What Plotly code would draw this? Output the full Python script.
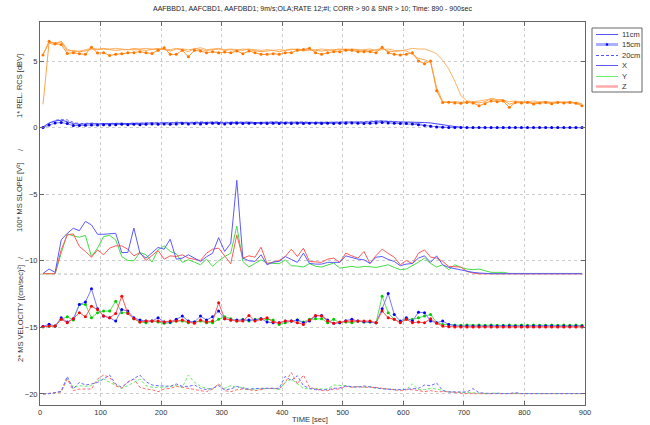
import plotly.graph_objects as go

# time bins (centre of each 10 s bin)
T = list(range(5, 900, 10))

RCS_ORANGE_MK = [5.45,6.49,6.29,6.24,5.57,5.62,5.55,5.50,6.04,5.60,
 5.62,5.42,5.50,5.55,5.62,5.62,5.70,5.62,5.57,5.80,
 6.00,5.50,5.50,5.80,5.32,5.80,5.75,5.62,5.70,5.62,
 5.67,5.62,5.75,5.55,5.75,5.62,5.50,5.50,5.55,5.50,
 5.62,5.62,5.80,5.87,5.95,5.62,5.50,5.62,5.70,5.70,
 5.80,5.80,5.70,5.70,5.70,5.62,6.04,5.62,5.50,5.45,
 5.50,5.62,5.00,4.80,5.00,2.76,1.89,1.90,1.85,1.82,
 1.89,1.85,1.64,1.80,2.00,1.95,2.00,1.52,1.89,1.85,
 1.89,1.77,1.85,1.89,1.80,1.89,1.85,1.89,1.82,1.64]
RCS_ORANGE_A = [1.75,6.40,6.35,6.45,5.75,5.80,5.70,5.75,5.90,5.85,
 5.90,5.85,5.80,5.85,5.85,5.90,5.85,5.80,5.85,5.95,
 5.85,5.75,5.90,5.85,5.70,5.95,5.85,5.80,5.85,5.90,
 5.80,5.85,5.80,5.90,5.85,5.80,5.70,5.75,5.80,5.70,
 5.80,5.90,5.85,5.75,5.85,5.80,5.75,5.80,5.85,5.90,
 5.85,5.90,5.85,5.80,5.75,5.85,5.95,5.75,5.70,5.80,
 5.75,5.50,5.20,5.10,4.90,3.00,1.95,1.90,1.95,1.90,
 1.95,1.90,1.85,1.95,2.20,2.10,2.10,1.75,1.90,1.95,
 1.90,1.85,1.90,1.95,1.85,1.90,1.90,1.95,1.85,1.75]
RCS_ORANGE_B = [5.50,6.35,6.20,6.50,5.90,5.70,5.75,5.85,5.95,5.90,
 5.95,5.90,5.95,5.90,5.85,5.95,5.90,5.95,5.90,5.85,
 5.90,5.85,5.95,5.90,5.85,5.90,6.00,5.85,5.90,5.95,
 5.85,5.90,5.85,5.80,5.90,5.85,5.80,5.85,5.80,5.85,
 5.80,5.85,5.90,5.85,5.80,5.85,5.90,5.85,5.80,5.85,
 5.90,5.85,5.80,5.85,5.90,5.80,5.85,5.90,5.80,5.75,
 5.85,5.95,5.90,5.90,5.75,5.55,5.05,4.40,3.50,2.40,
 2.00,1.95,2.00,2.10,2.15,2.00,2.05,1.95,2.00,1.90,
 1.95,2.00,1.90,1.95,1.90,1.95,1.90,1.85,1.90,1.80]

RCS_11 = [0.05,0.35,0.50,0.55,0.45,0.30,0.25,0.28,0.30,0.28,
 0.30,0.28,0.30,0.32,0.30,0.32,0.30,0.33,0.35,0.33,
 0.35,0.33,0.35,0.38,0.35,0.37,0.35,0.38,0.40,0.38,
 0.35,0.38,0.40,0.37,0.40,0.38,0.40,0.37,0.40,0.38,
 0.40,0.38,0.40,0.37,0.38,0.40,0.38,0.40,0.38,0.40,
 0.42,0.45,0.42,0.40,0.42,0.48,0.50,0.45,0.42,0.42,
 0.42,0.42,0.40,0.38,0.35,0.30,0.22,0.15,0.08,0.03,
 0,0,0,0,0,0,0,0,0,0,
 0,0,0,0,0,0,0,0,0,0]
RCS_15 = [0.00,0.20,0.35,0.38,0.30,0.15,0.15,0.18,0.20,0.20,
 0.22,0.20,0.22,0.25,0.22,0.25,0.22,0.25,0.28,0.25,
 0.28,0.25,0.28,0.30,0.28,0.30,0.28,0.30,0.32,0.30,
 0.28,0.30,0.32,0.30,0.33,0.30,0.32,0.30,0.32,0.30,
 0.33,0.30,0.32,0.30,0.32,0.33,0.30,0.32,0.30,0.32,
 0.33,0.35,0.32,0.30,0.32,0.35,0.38,0.35,0.32,0.30,
 0.30,0.28,0.22,0.15,0.10,0.05,0.02,0,0,0,
 0,0,0,0,0,0,0,0,0,0,
 0,0,0,0,0,0,0,0,0,0]
RCS_20 = [0.00,0.30,0.55,0.62,0.58,0.40,0.30,0.32,0.35,0.30,
 0.32,0.30,0.35,0.33,0.30,0.35,0.33,0.35,0.38,0.35,
 0.40,0.35,0.42,0.40,0.38,0.40,0.45,0.40,0.42,0.45,
 0.40,0.42,0.45,0.40,0.42,0.38,0.40,0.42,0.40,0.45,
 0.42,0.40,0.42,0.45,0.40,0.42,0.40,0.43,0.40,0.42,
 0.45,0.42,0.40,0.45,0.50,0.52,0.48,0.50,0.45,0.42,
 0.40,0.35,0.30,0.20,0.12,0.06,0.02,0,0,0,
 0,0,0,0,0,0,0,0,0,0,
 0,0,0,0,0,0,0,0,0,0]

SLOPE_X = [-10.95,-10.62,-10.87,-8.43,-7.94,-7.56,-7.74,-7.04,-7.31,-8.01,
 -8.01,-8.00,-7.94,-9.38,-9.38,-7.54,-9.43,-9.80,-9.40,-9.00,
 -9.13,-8.38,-9.88,-9.80,-9.55,-9.80,-10.05,-9.70,-9.43,-8.26,
 -9.30,-8.68,-3.96,-9.80,-10.00,-10.05,-9.55,-10.30,-10.10,-10.05,
 -9.68,-9.90,-10.12,-9.43,-10.20,-10.25,-10.25,-10.12,-10.10,-10.12,
 -9.63,-9.75,-9.88,-9.93,-10.20,-9.73,-9.68,-9.90,-10.05,-10.37,
 -10.25,-10.20,-9.80,-9.63,-10.12,-9.63,-10.30,-10.50,-10.60,-10.67,
 -10.80,-10.87,-10.92,-10.97,-10.97,-10.97,-10.97,-10.97,-10.92,-10.97,
 -10.97,-10.97,-10.97,-10.97,-10.97,-10.97,-10.97,-10.97,-10.97,-10.97]
SLOPE_Y = [-10.97,-10.97,-10.97,-9.43,-7.98,-8.13,-8.23,-8.10,-9.68,-9.05,
 -8.18,-8.10,-8.43,-9.68,-9.98,-10.00,-9.38,-9.55,-10.10,-9.18,
 -8.88,-9.30,-9.48,-10.12,-9.93,-10.10,-10.30,-9.88,-10.42,-10.00,
 -9.68,-9.43,-7.39,-10.05,-10.47,-10.20,-9.93,-10.17,-10.20,-10.22,
 -9.93,-10.37,-10.40,-10.47,-10.20,-10.42,-10.47,-10.30,-10.17,-10.55,
 -10.50,-10.42,-10.50,-10.42,-10.45,-10.50,-10.40,-10.30,-10.50,-10.67,
 -10.62,-10.37,-10.10,-9.80,-10.20,-10.47,-10.30,-10.67,-10.30,-10.50,
 -10.62,-10.67,-10.62,-10.75,-10.87,-10.87,-10.87,-10.95,-10.95,-10.95,
 -10.95,-10.95,-10.95,-10.95,-10.95,-10.95,-10.95,-10.95,-10.95,-10.95]
SLOPE_Z = [-10.97,-10.97,-10.97,-9.18,-8.06,-7.98,-8.93,-9.30,-9.73,-9.18,
 -9.55,-9.05,-8.88,-8.88,-9.13,-9.63,-9.38,-9.98,-9.60,-9.23,
 -9.88,-9.63,-9.68,-9.55,-9.80,-9.90,-9.98,-9.43,-9.13,-9.05,
 -9.60,-10.22,-8.06,-9.80,-9.63,-9.73,-8.98,-10.22,-10.10,-9.98,
 -9.68,-9.13,-9.68,-9.05,-10.05,-10.10,-10.12,-9.88,-9.80,-10.12,
 -9.43,-9.63,-9.80,-9.30,-10.20,-9.60,-9.13,-9.45,-9.73,-10.30,
 -9.98,-10.22,-9.43,-9.18,-9.73,-9.80,-10.05,-10.42,-10.45,-10.47,
 -10.80,-10.92,-10.98,-10.98,-10.98,-10.98,-10.98,-10.98,-10.98,-10.98,
 -10.98,-10.98,-10.98,-10.98,-10.98,-10.98,-10.98,-10.98,-10.98,-10.98]

VEL_X = [-14.94,-14.77,-14.90,-14.28,-14.60,-14.35,-13.28,-13.10,-12.11,-13.60,
 -14.15,-14.28,-14.53,-13.66,-13.78,-14.28,-14.45,-14.53,-14.53,-14.28,
 -14.60,-14.60,-14.40,-14.15,-14.53,-14.60,-14.15,-14.45,-14.20,-13.78,
 -14.35,-14.45,-14.45,-14.45,-14.45,-14.45,-14.35,-14.60,-14.65,-14.65,
 -14.53,-14.53,-14.45,-14.65,-14.53,-14.15,-14.10,-14.45,-14.70,-14.65,
 -14.50,-14.40,-14.53,-14.58,-14.58,-14.65,-13.60,-12.46,-14.03,-14.53,
 -14.28,-14.53,-13.86,-13.91,-14.53,-14.65,-14.53,-14.78,-14.88,-14.92,
 -14.90,-14.92,-14.90,-14.92,-14.90,-14.92,-14.90,-14.90,-14.92,-14.90,
 -14.92,-14.90,-14.92,-14.90,-14.90,-14.92,-14.90,-14.92,-14.90,-14.92]
VEL_Y = [-14.95,-14.92,-14.90,-14.40,-14.20,-14.45,-13.28,-13.28,-14.28,-13.90,
 -13.78,-13.78,-13.03,-13.90,-13.90,-14.35,-14.60,-14.65,-14.53,-14.60,
 -14.70,-14.65,-14.53,-14.53,-14.65,-14.60,-14.53,-14.65,-14.65,-14.40,
 -14.20,-14.35,-14.53,-14.40,-14.53,-14.40,-14.35,-14.40,-14.45,-14.78,
 -14.65,-14.53,-14.45,-14.60,-14.40,-14.35,-14.35,-14.65,-14.40,-14.65,
 -14.60,-14.65,-14.55,-14.60,-14.60,-14.65,-12.66,-13.90,-14.40,-14.60,
 -14.40,-14.40,-14.28,-14.15,-14.03,-14.65,-14.78,-14.78,-14.82,-14.85,
 -14.82,-14.85,-14.83,-14.85,-14.82,-14.85,-14.85,-14.83,-14.85,-14.82,
 -14.85,-14.83,-14.85,-14.85,-14.82,-14.85,-14.83,-14.85,-14.82,-14.85]
VEL_Z = [-14.95,-14.90,-14.90,-14.40,-14.65,-14.35,-13.90,-14.20,-13.41,-13.66,
 -14.15,-14.28,-13.96,-12.66,-13.96,-14.35,-14.60,-14.53,-14.53,-14.53,
 -14.60,-14.53,-14.53,-14.45,-14.60,-14.70,-14.45,-14.60,-14.53,-13.16,
 -14.35,-14.45,-14.53,-14.53,-14.10,-14.53,-14.40,-14.28,-14.60,-14.65,
 -14.53,-14.53,-14.65,-14.78,-14.45,-14.10,-14.15,-14.53,-14.70,-14.60,
 -14.55,-14.53,-14.53,-14.53,-14.53,-14.65,-13.78,-14.28,-14.40,-14.65,
 -14.40,-14.65,-14.60,-14.65,-14.35,-14.70,-14.90,-14.95,-14.97,-14.97,
 -14.97,-14.97,-14.97,-14.97,-14.97,-14.97,-14.97,-14.97,-14.97,-14.97,
 -14.97,-14.97,-14.97,-14.97,-14.97,-14.97,-14.97,-14.97,-14.97,-14.97]

VEL20_X = [-20.00,-19.98,-19.90,-19.80,-18.68,-19.63,-19.13,-19.33,-19.25,-19.13,
 -18.88,-18.58,-19.25,-19.50,-19.13,-18.88,-18.58,-19.08,-19.33,-19.38,
 -19.43,-19.43,-19.25,-19.43,-19.43,-19.33,-19.58,-19.68,-19.58,-19.38,
 -19.68,-19.63,-19.43,-19.58,-19.63,-19.58,-19.58,-19.58,-19.58,-19.58,
 -18.68,-19.00,-18.63,-19.38,-19.58,-19.68,-19.68,-19.68,-19.58,-19.55,
 -19.40,-19.45,-19.50,-19.40,-19.50,-19.55,-19.60,-19.65,-19.68,-19.68,
 -19.65,-19.58,-19.58,-19.33,-19.38,-19.18,-19.75,-19.85,-19.85,-19.85,
 -19.85,-19.60,-19.90,-19.95,-19.97,-19.97,-19.97,-19.97,-19.90,-19.97,
 -19.97,-19.97,-19.97,-19.97,-19.97,-19.97,-19.97,-19.97,-19.97,-19.97]
VEL20_Y = [-20.00,-19.98,-19.92,-19.80,-18.83,-19.50,-19.38,-19.43,-19.38,-19.00,
 -18.88,-19.13,-19.38,-19.58,-19.38,-19.13,-18.88,-19.38,-19.50,-19.50,
 -19.50,-19.43,-19.38,-19.50,-18.58,-19.13,-19.43,-19.58,-19.63,-19.25,
 -19.58,-19.38,-19.50,-19.50,-19.68,-19.63,-19.63,-19.63,-19.58,-19.68,
 -19.13,-18.88,-19.25,-19.58,-19.63,-19.58,-19.63,-19.63,-19.33,-19.38,
 -19.38,-19.50,-19.43,-19.50,-19.43,-19.58,-19.58,-19.63,-19.65,-19.68,
 -19.68,-19.25,-19.68,-19.68,-19.58,-19.63,-19.75,-19.85,-19.85,-19.90,
 -19.88,-19.92,-19.95,-19.97,-19.97,-19.92,-19.97,-19.97,-19.97,-19.97,
 -19.97,-19.97,-19.92,-19.97,-19.97,-19.97,-19.97,-19.97,-19.97,-19.97]
VEL20_Z = [-20.00,-19.98,-19.92,-19.85,-18.88,-19.75,-19.63,-19.63,-19.63,-18.88,
 -18.58,-18.75,-19.38,-19.58,-19.08,-18.88,-19.50,-19.63,-19.68,-19.83,
 -19.63,-19.58,-19.43,-19.50,-19.58,-19.63,-19.75,-19.83,-19.63,-19.25,
 -19.75,-19.83,-19.68,-19.63,-19.68,-19.75,-19.68,-19.58,-19.58,-19.63,
 -19.13,-18.38,-19.25,-18.58,-19.50,-19.63,-19.75,-19.75,-19.63,-19.63,
 -19.43,-19.50,-19.45,-19.50,-19.50,-19.50,-19.58,-19.63,-19.68,-19.75,
 -19.68,-19.68,-19.75,-19.83,-19.75,-19.83,-19.83,-19.83,-19.90,-19.95,
 -19.98,-19.98,-19.98,-19.98,-19.98,-19.98,-19.98,-19.98,-19.98,-19.98,
 -19.98,-19.98,-19.98,-19.98,-19.98,-19.98,-19.98,-19.98,-19.98,-19.98]

SLOPE_BASELINE = -11
X_TICKS = [0, 100, 200, 300, 400, 500, 600, 700, 800, 900]
Y_TICKS = [-20, -15, -10, -5, 0, 5]
LEGEND_LABELS = ["11cm", "15cm", "20cm", "X", "Y", "Z"]
TITLE = "AAFBBD1, AAFCBD1, AAFDBD1; 9m/s;OLA;RATE 12;#I; CORR > 90 & SNR > 10; Time: 890 - 900sec"

FONT = "Liberation Sans, Arial, sans-serif"
BLUE_L, GREEN_L, RED_L = "#5a5aff", "#44dd44", "#ff5a5a"

fig = go.Figure()


def add(y, color, width=1.0, dash=None, mcolor=None):
    mode = "lines+markers" if mcolor else "lines"
    fig.add_trace(go.Scatter(
        x=T, y=y, mode=mode,
        line=dict(color=color, width=width, dash=dash),
        marker=dict(color=mcolor, size=3, line=dict(width=0)) if mcolor else None,
        showlegend=False, hoverinfo="skip"))


# dashed velocity group
add(VEL20_Y, "#66ee66", 1, "3px,2px")
add(VEL20_Z, "#ff6a6a", 1, "3px,2px")
add(VEL20_X, "#6a6aff", 1, "3px,2px")
# velocity with markers
add(VEL_Y, "#55e055", 1, None, "#00cc00")
add(VEL_X, "#7a7aff", 1, None, "#0000ff")
add(VEL_Z, "#ff5555", 1, None, "#ff0000")
# slope
add(SLOPE_Y, GREEN_L, 1)
add(SLOPE_Z, RED_L, 1)
add(SLOPE_X, BLUE_L, 1)
# RCS
add(RCS_20, "#7777ff", 1, "3px,2px")
add(RCS_11, "#4444ff", 1)
add(RCS_15, "#8080ff", 1, None, "#0000ee")
add(RCS_ORANGE_B, "#ffb366", 1)
add(RCS_ORANGE_A, "#ffa64d", 1)
add(RCS_ORANGE_MK, "#ff9933", 1, None, "#ff7700")

PL, PR, PT, PB = 40, 585, 22, 405          # plot box in page pixels
W, H = 650, 425
PW, PH = PR - PL, PB - PT


def px(xp):
    return (xp - PL) / PW


def py(yp):
    return (PB - yp) / PH


axis_common = dict(
    automargin=False,
    showline=True, linecolor="#666666", linewidth=1, mirror="ticks",
    ticks="inside", ticklen=4, tickcolor="#666666",
    showgrid=True, gridcolor="#cccccc", griddash="dot", gridwidth=1,
    zeroline=False, tickfont=dict(family=FONT, size=7.5, color="#333333"),
)

shapes = [dict(type="line", xref="paper", yref="y", x0=0, x1=1,
               y0=SLOPE_BASELINE, y1=SLOPE_BASELINE,
               line=dict(color="#b8b8b8", width=1, dash="dot"), layer="below")]

# compact MATLAB-like legend box
shapes.append(dict(type="rect", xref="paper", yref="paper",
                   x0=px(592), x1=px(642), y0=py(92), y1=py(28),
                   line=dict(color="#666666", width=1), fillcolor="white"))
leg_styles = [
    dict(color="#5555ff", width=1, dash="solid"),
    dict(color="#aab0ff", width=3, dash="solid"),
    dict(color="#5555ff", width=1, dash="3px,2px"),
    dict(color="#5a5aff", width=1, dash="solid"),
    dict(color="#66ee66", width=1, dash="solid"),
    dict(color="#ffaaaa", width=2.5, dash="solid"),
]
leg_rows = [34.5, 44.5, 55.5, 65.5, 76.5, 86.5]
annotations = []
for lab, st, yy in zip(LEGEND_LABELS, leg_styles, leg_rows):
    shapes.append(dict(type="line", xref="paper", yref="paper",
                       x0=px(596), x1=px(618), y0=py(yy), y1=py(yy), line=st))
    if lab == "15cm":
        shapes.append(dict(type="circle", xref="paper", yref="paper",
                           x0=px(605.8), x1=px(608.2), y0=py(yy + 1.2), y1=py(yy - 1.2),
                           fillcolor="#0000ee", line=dict(width=0)))
    annotations.append(dict(text=lab, xref="paper", yref="paper", x=px(619.5), y=py(yy),
                            xanchor="left", yanchor="middle", showarrow=False,
                            font=dict(family=FONT, size=7.5, color="#333333")))

annotations.append(dict(text=TITLE, xref="paper", yref="paper", x=0.5, y=py(9),
                        xanchor="center", yanchor="middle", showarrow=False,
                        font=dict(family=FONT, size=7, color="#222222")))
annotations.append(dict(text="TIME [sec]", xref="paper", yref="paper", x=px(310), y=py(419),
                        xanchor="center", yanchor="middle", showarrow=False,
                        font=dict(family=FONT, size=7.5, color="#333333")))
for txt, yc in [("1* REL. RCS [dBV]", 86), ("/", 150), ("100* MS SLOPE [V²]", 197),
                ("/", 258), ("2* MS VELOCITY [(cm/sec)²]", 314)]:
    annotations.append(dict(text=txt, xref="paper", yref="paper", x=px(20), y=py(yc),
                            xanchor="center", yanchor="middle", textangle=-90, showarrow=False,
                            font=dict(family=FONT, size=7.5, color="#333333")))

fig.update_layout(
    template="none",
    width=W, height=H,
    margin=dict(l=PL, r=W - PR, t=PT, b=H - PB, autoexpand=False),
    paper_bgcolor="white", plot_bgcolor="white",
    xaxis=dict(range=[0, 900], tickvals=X_TICKS, **axis_common),
    yaxis=dict(range=[-20.83, 7.93], tickvals=Y_TICKS, **axis_common),
    shapes=shapes, annotations=annotations, showlegend=False,
    hovermode=False,
)

# remove the browser's default 8px body margin so the figure sits at the page origin
fig.write_html("out.html", config={"displayModeBar": False, "staticPlot": True},
               post_script="document.body.style.margin='0px';")
